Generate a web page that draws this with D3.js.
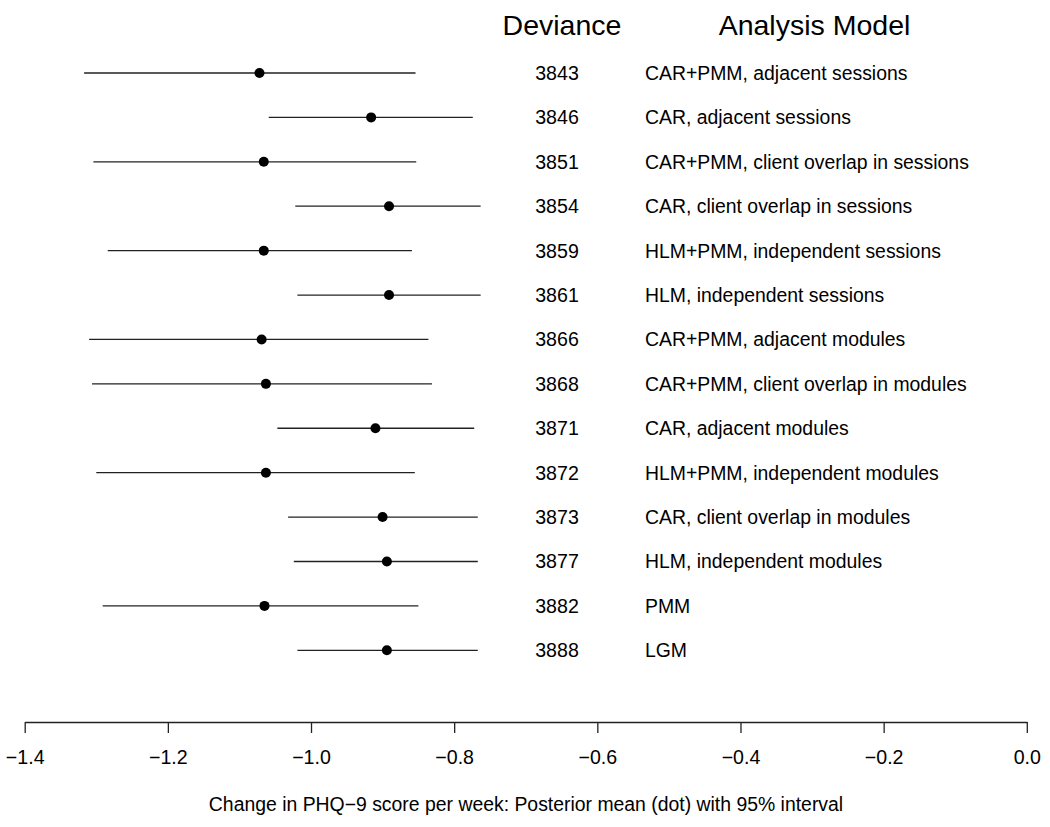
<!DOCTYPE html>
<html>
<head>
<meta charset="utf-8">
<script src="https://cdn.jsdelivr.net/npm/d3@7"></script>
<style>
  html, body { margin: 0; padding: 0; background: #fff; }
  svg { display: block; font-family: "Liberation Sans", Arial, Helvetica, sans-serif; }
</style>
</head>
<body>
<svg id="chart" width="1050" height="827"></svg>
<script>
const models = [
  "CAR+PMM, adjacent sessions",
  "CAR, adjacent sessions",
  "CAR+PMM, client overlap in sessions",
  "CAR, client overlap in sessions",
  "HLM+PMM, independent sessions",
  "HLM, independent sessions",
  "CAR+PMM, adjacent modules",
  "CAR+PMM, client overlap in modules",
  "CAR, adjacent modules",
  "HLM+PMM, independent modules",
  "CAR, client overlap in modules",
  "HLM, independent modules",
  "PMM",
  "LGM"
];
const deviance = [3843, 3846, 3851, 3854, 3859, 3861, 3866, 3868, 3871, 3872, 3873, 3877, 3882, 3888];
const means = [-1.072, -0.916, -1.066, -0.891, -1.066, -0.891, -1.069, -1.063, -0.910, -1.063, -0.900, -0.894, -1.065, -0.894];
const lower = [-1.317, -1.059, -1.304, -1.022, -1.284, -1.019, -1.310, -1.306, -1.047, -1.300, -1.032, -1.024, -1.291, -1.019];
const upper = [-0.854, -0.774, -0.853, -0.763, -0.859, -0.763, -0.836, -0.831, -0.772, -0.855, -0.767, -0.767, -0.850, -0.767];
const xTicks = [-1.4, -1.2, -1.0, -0.8, -0.6, -0.4, -0.2, 0.0];
const headers = ["Deviance", "Analysis Model"];
const xTitle = "Change in PHQ\u22129 score per week: Posterior mean (dot) with 95% interval";

const svg = d3.select("#chart");
const x = d3.scaleLinear().domain([-1.4, 0]).range([24.7, 1026.8]);
const y = d3.scalePoint().domain(d3.range(models.length)).range([73, 650.3]);

const rows = models.map((m, i) => ({ m, dev: deviance[i], mean: means[i], lo: lower[i], hi: upper[i], i }));

// interval lines
svg.append("g").selectAll("line").data(rows).join("line")
  .attr("x1", d => x(d.lo)).attr("x2", d => x(d.hi))
  .attr("y1", d => y(d.i)).attr("y2", d => y(d.i))
  .attr("stroke", "#222").attr("stroke-width", 1.3);

// dots
svg.append("g").selectAll("circle").data(rows).join("circle")
  .attr("cx", d => x(d.mean)).attr("cy", d => y(d.i))
  .attr("r", 5).attr("fill", "#000");

// deviance column
svg.append("g").selectAll("text").data(rows).join("text")
  .attr("x", 557).attr("y", d => y(d.i) + 7)
  .attr("text-anchor", "middle").attr("font-size", 19.6).attr("fill", "#000")
  .text(d => d.dev);

// model column
svg.append("g").selectAll("text").data(rows).join("text")
  .attr("x", 645).attr("y", d => y(d.i) + 7)
  .attr("text-anchor", "start").attr("font-size", 19.4).attr("fill", "#000")
  .text(d => d.m);

// headers
svg.append("text").attr("x", 562).attr("y", 35).attr("text-anchor", "middle")
  .attr("font-size", 28.5).attr("fill", "#000").text(headers[0]);
svg.append("text").attr("x", 814.5).attr("y", 35).attr("text-anchor", "middle")
  .attr("font-size", 28.5).attr("fill", "#000").text(headers[1]);

// x axis
const axis = d3.axisBottom(x).tickValues(xTicks).tickSize(11).tickSizeOuter(0)
  .tickFormat(d => d3.format(".1f")(d).replace("-", "\u2212"));
const gx = svg.append("g").attr("transform", "translate(0,722)").call(axis);
gx.attr("font-size", null).attr("font-family", null);
gx.select(".domain").attr("stroke", "#222").attr("stroke-width", 1.3);
gx.selectAll(".tick line").attr("stroke", "#222").attr("stroke-width", 1.3);
gx.selectAll(".tick text").attr("font-size", 19.6).attr("fill", "#000")
  .attr("dy", null).attr("y", 42);

svg.append("text").attr("x", 526).attr("y", 811).attr("text-anchor", "middle")
  .attr("font-size", 19.4).attr("fill", "#000").text(xTitle);
</script>
</body>
</html>
